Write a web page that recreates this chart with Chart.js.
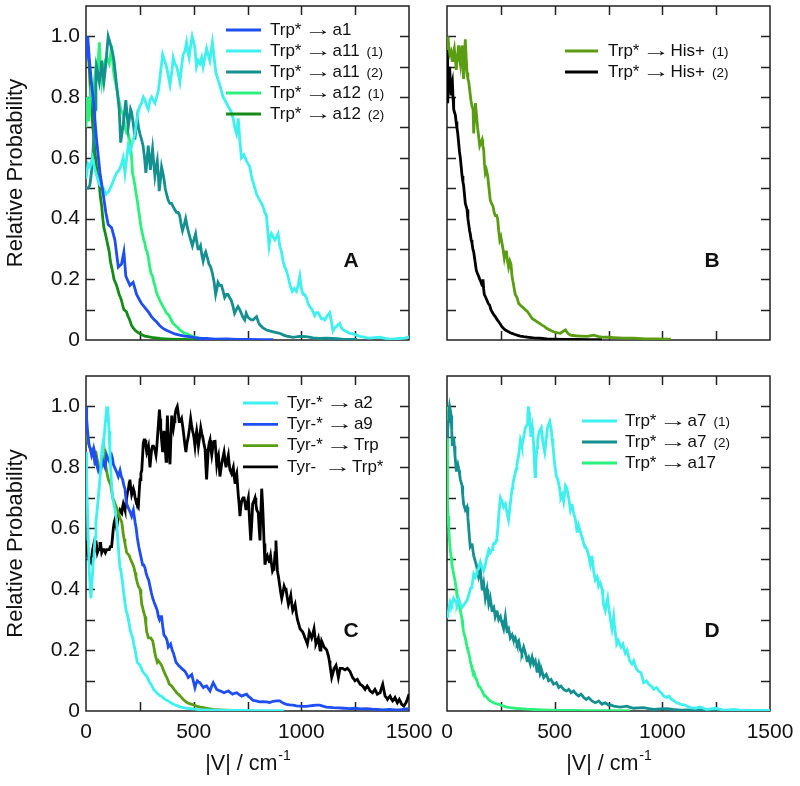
<!DOCTYPE html>
<html>
<head>
<meta charset="utf-8">
<script src="https://cdn.jsdelivr.net/npm/chart.js@4.4.1/dist/chart.umd.min.js"></script>
<style>
  body { margin: 0; background: #fff; }
  #wrap { position: relative; width: 800px; height: 786px; }
  #wrap canvas { position: absolute; left: 0; top: 0; }
</style>
</head>
<body>
<div id="wrap">
  <canvas id="panelA" width="800" height="786"></canvas>
  <canvas id="panelB" width="800" height="786"></canvas>
  <canvas id="panelC" width="800" height="786"></canvas>
  <canvas id="panelD" width="800" height="786"></canvas>
</div>
<script>
// tick labels
const xLabelValues = [0, 500, 1000, 1500];
const xLabelText = ['0', '500', '1000', '1500'];
const yLabelValues = [0, 0.2, 0.4, 0.6, 0.8, 1.0];
const yLabelText = ['0', '0.2', '0.4', '0.6', '0.8', '1.0'];

// series labels, per panel
const labelsA = ['Trp* → a1', 'Trp* → a11 (1)', 'Trp* → a11 (2)', 'Trp* → a12 (1)', 'Trp* → a12 (2)'];
const labelsB = ['Trp* → His+ (1)', 'Trp* → His+ (2)'];
const labelsC = ['Tyr-* → a2', 'Tyr-* → a9', 'Tyr-* → Trp', 'Tyr-  → Trp*'];
const labelsD = ['Trp* → a7 (1)', 'Trp* → a7 (2)', 'Trp* → a17'];

// Panel A  ([|V| in cm-1, relative probability])
const a1 = [[0,0.92],[8,1.0],[15,0.93],[25,0.85],[34,0.79],[49,0.66],[65,0.55],[80,0.48],[92,0.42],[103,0.38],[119,0.37],[134,0.33],[150,0.24],[165,0.25],[176,0.29],[185,0.21],[204,0.18],[219,0.19],[235,0.15],[250,0.13],[258,0.12],[270,0.11],[281,0.10],[292,0.09],[304,0.077],[315,0.068],[327,0.06],[342,0.048],[358,0.038],[373,0.032],[389,0.027],[412,0.02],[435,0.016],[458,0.013],[481,0.011],[505,0.008],[528,0.005],[560,0.005],[600,0.003],[650,0.004],[700,0.002],[760,0.002],[820,0.001],[870,0.001]];
const a11_1 = [[0,0.53],[10,0.58],[19,0.57],[30,0.6],[42,0.56],[54,0.53],[65,0.51],[80,0.5],[93,0.48],[106,0.49],[119,0.51],[130,0.53],[142,0.55],[154,0.56],[165,0.58],[173,0.6],[181,0.55],[189,0.6],[196,0.64],[204,0.62],[212,0.64],[220,0.66],[227,0.68],[235,0.72],[243,0.75],[250,0.77],[258,0.78],[266,0.8],[274,0.79],[282,0.77],[289,0.76],[297,0.79],[305,0.8],[312,0.79],[320,0.78],[328,0.8],[336,0.82],[346,0.88],[356,0.94],[365,0.92],[374,0.9],[382,0.87],[390,0.84],[398,0.88],[405,0.93],[413,0.91],[421,0.9],[428,0.88],[436,0.85],[444,0.9],[451,0.94],[459,0.95],[467,0.98],[473,0.95],[479,0.93],[486,0.97],[493,1.0],[500,0.98],[506,0.96],[513,0.9],[521,0.92],[529,0.91],[537,0.93],[544,0.9],[552,0.93],[560,0.96],[567,0.94],[575,0.92],[581,0.95],[587,0.98],[595,0.93],[603,0.88],[612,0.86],[621,0.84],[629,0.82],[637,0.8],[645,0.79],[652,0.78],[660,0.77],[668,0.76],[675,0.75],[683,0.73],[691,0.7],[699,0.68],[707,0.73],[714,0.66],[722,0.6],[733,0.61],[745,0.59],[753,0.58],[761,0.57],[768,0.54],[776,0.52],[784,0.5],[792,0.48],[800,0.47],[807,0.46],[815,0.45],[822,0.44],[830,0.42],[838,0.41],[844,0.36],[850,0.31],[856,0.34],[861,0.35],[869,0.34],[877,0.33],[885,0.34],[892,0.35],[900,0.31],[908,0.29],[915,0.26],[923,0.24],[930,0.23],[938,0.21],[948,0.18],[958,0.16],[967,0.17],[977,0.16],[985,0.18],[993,0.21],[1000,0.17],[1008,0.15],[1015,0.15],[1023,0.14],[1031,0.12],[1039,0.11],[1050,0.1],[1062,0.08],[1070,0.09],[1078,0.09],[1086,0.08],[1093,0.07],[1101,0.07],[1109,0.066],[1120,0.08],[1132,0.09],[1140,0.06],[1147,0.03],[1155,0.04],[1163,0.044],[1170,0.05],[1178,0.055],[1186,0.04],[1194,0.033],[1210,0.028],[1225,0.022],[1240,0.02],[1256,0.016],[1270,0.012],[1286,0.01],[1300,0.008],[1317,0.006],[1340,0.008],[1364,0.009],[1390,0.005],[1410,0.003],[1435,0.004],[1456,0.005],[1480,0.006],[1500,0.01]];
const a11_2 = [[0,0.5],[10,0.5],[18,0.51],[25,0.55],[31,0.6],[37,0.68],[42,0.76],[46,0.84],[49,0.9],[55,0.88],[62,0.85],[68,0.88],[73,0.92],[78,0.88],[83,0.85],[88,0.88],[93,0.92],[98,0.96],[103,1.0],[111,0.98],[119,0.96],[125,0.94],[130,0.92],[136,0.88],[142,0.84],[148,0.8],[154,0.76],[158,0.7],[161,0.65],[167,0.68],[173,0.71],[179,0.75],[185,0.79],[191,0.74],[196,0.7],[202,0.73],[207,0.76],[212,0.75],[216,0.73],[222,0.7],[227,0.66],[233,0.7],[238,0.73],[244,0.7],[250,0.68],[258,0.66],[265,0.64],[272,0.6],[278,0.55],[284,0.6],[289,0.64],[294,0.6],[299,0.56],[304,0.6],[309,0.63],[315,0.58],[320,0.54],[326,0.57],[331,0.59],[336,0.54],[340,0.49],[346,0.53],[351,0.57],[357,0.55],[362,0.53],[368,0.5],[374,0.48],[382,0.46],[389,0.45],[397,0.45],[404,0.44],[412,0.43],[420,0.42],[428,0.42],[435,0.41],[442,0.38],[448,0.36],[456,0.38],[463,0.4],[471,0.37],[478,0.35],[486,0.33],[494,0.31],[501,0.33],[509,0.35],[515,0.32],[520,0.3],[526,0.3],[532,0.31],[538,0.28],[544,0.26],[550,0.28],[556,0.29],[564,0.27],[571,0.25],[579,0.24],[587,0.22],[595,0.19],[602,0.15],[608,0.17],[613,0.19],[621,0.18],[629,0.18],[637,0.16],[644,0.14],[652,0.15],[659,0.15],[667,0.14],[675,0.13],[683,0.11],[690,0.088],[698,0.1],[706,0.11],[714,0.1],[721,0.088],[729,0.075],[737,0.066],[744,0.088],[752,0.075],[760,0.07],[768,0.066],[776,0.066],[784,0.072],[792,0.077],[800,0.06],[807,0.05],[822,0.04],[838,0.033],[853,0.03],[869,0.027],[885,0.024],[900,0.022],[915,0.017],[931,0.013],[946,0.011],[962,0.009],[990,0.012],[1023,0.011],[1055,0.007],[1085,0.005],[1115,0.006],[1147,0.005],[1190,0.003],[1225,0.002],[1260,0.002]];
const a12_1 = [[0,0.7],[6,0.8],[12,0.72],[18,0.77],[24,0.84],[29,0.8],[34,0.79],[40,0.86],[46,0.9],[52,0.88],[57,0.92],[62,0.98],[67,0.9],[73,0.85],[78,0.88],[83,0.9],[89,0.92],[96,0.93],[102,0.92],[108,0.91],[114,0.94],[119,0.97],[123,0.93],[127,0.89],[133,0.86],[139,0.84],[145,0.82],[150,0.8],[156,0.78],[161,0.76],[167,0.75],[173,0.74],[179,0.71],[185,0.69],[190,0.68],[196,0.68],[202,0.66],[207,0.64],[212,0.6],[216,0.55],[222,0.53],[227,0.51],[233,0.48],[238,0.46],[244,0.43],[250,0.4],[256,0.37],[262,0.35],[268,0.33],[273,0.32],[278,0.3],[284,0.29],[290,0.27],[296,0.24],[302,0.22],[309,0.21],[315,0.19],[320,0.18],[326,0.16],[331,0.15],[337,0.14],[343,0.13],[350,0.12],[358,0.11],[366,0.1],[374,0.088],[381,0.085],[389,0.077],[396,0.065],[404,0.055],[412,0.05],[420,0.044],[428,0.04],[435,0.033],[446,0.028],[458,0.022],[470,0.02],[481,0.016],[496,0.012],[512,0.009],[525,0.007],[540,0.005]];
const a12_2 = [[0,1.0],[6,0.98],[11,0.94],[15,0.9],[20,0.83],[26,0.76],[31,0.71],[37,0.66],[43,0.61],[49,0.57],[55,0.54],[62,0.51],[67,0.47],[73,0.44],[78,0.4],[83,0.37],[90,0.35],[96,0.33],[102,0.31],[108,0.29],[113,0.26],[119,0.24],[125,0.22],[130,0.2],[136,0.19],[142,0.18],[148,0.165],[154,0.15],[160,0.14],[165,0.13],[170,0.115],[176,0.1],[182,0.097],[188,0.093],[194,0.08],[200,0.071],[206,0.06],[211,0.049],[219,0.04],[227,0.033],[237,0.027],[247,0.022],[260,0.017],[273,0.013],[288,0.011],[304,0.009],[323,0.007],[343,0.005],[366,0.004],[389,0.003],[420,0.002],[450,0.002],[500,0.001],[560,0.001]];

// Panel B
const his1 = [[0,0.96],[4,1.0],[8,0.97],[13,0.94],[19,0.95],[24,0.92],[28,0.92],[31,0.95],[34,0.96],[39,0.92],[43,0.89],[48,0.93],[54,0.97],[58,0.93],[62,0.91],[66,0.95],[70,0.97],[74,0.9],[77,0.86],[81,0.93],[85,0.99],[89,0.93],[93,0.88],[97,0.86],[101,0.85],[106,0.82],[111,0.79],[116,0.77],[121,0.76],[124,0.68],[128,0.74],[132,0.78],[137,0.74],[142,0.7],[147,0.67],[152,0.64],[157,0.65],[163,0.66],[166,0.64],[170,0.63],[174,0.58],[178,0.55],[183,0.56],[189,0.54],[195,0.5],[201,0.46],[207,0.45],[214,0.44],[219,0.42],[224,0.41],[230,0.41],[235,0.4],[240,0.36],[245,0.33],[250,0.34],[255,0.32],[260,0.3],[266,0.27],[271,0.29],[276,0.29],[281,0.26],[286,0.24],[292,0.26],[297,0.25],[302,0.21],[307,0.19],[312,0.17],[317,0.15],[325,0.14],[333,0.12],[340,0.115],[348,0.11],[356,0.105],[364,0.099],[372,0.095],[379,0.088],[387,0.08],[395,0.071],[406,0.066],[418,0.06],[430,0.055],[441,0.049],[452,0.045],[464,0.038],[480,0.032],[495,0.027],[510,0.024],[526,0.022],[538,0.028],[550,0.033],[561,0.022],[573,0.016],[596,0.014],[619,0.013],[650,0.012],[681,0.016],[705,0.011],[728,0.009],[751,0.009],[774,0.008],[820,0.006],[870,0.006],[920,0.004],[970,0.004],[1010,0.003],[1040,0.003]];
const his2 = [[0,1.0],[3,0.78],[6,0.83],[8,0.85],[10,0.88],[12,0.9],[15,0.86],[19,0.81],[22,0.84],[25,0.85],[28,0.8],[31,0.76],[35,0.75],[39,0.74],[42,0.72],[46,0.7],[50,0.68],[54,0.65],[58,0.62],[62,0.6],[66,0.57],[70,0.54],[74,0.52],[77,0.51],[81,0.48],[85,0.45],[89,0.44],[93,0.43],[97,0.4],[101,0.38],[105,0.36],[108,0.35],[112,0.33],[116,0.32],[120,0.3],[124,0.29],[130,0.26],[136,0.23],[141,0.22],[147,0.21],[152,0.2],[158,0.19],[163,0.18],[167,0.2],[170,0.17],[173,0.15],[180,0.14],[186,0.13],[192,0.12],[198,0.115],[204,0.1],[209,0.093],[216,0.085],[224,0.077],[232,0.068],[240,0.06],[248,0.052],[255,0.044],[263,0.038],[271,0.033],[279,0.03],[286,0.027],[294,0.024],[302,0.022],[313,0.019],[325,0.016],[340,0.013],[356,0.011],[380,0.009],[402,0.007],[430,0.006],[464,0.004],[500,0.003],[542,0.002],[600,0.002],[660,0.001],[720,0.001]];

// Panel C
const tyrA2 = [[0,0.85],[3,0.76],[6,0.68],[10,0.57],[15,0.46],[19,0.41],[23,0.37],[27,0.42],[31,0.46],[34,0.5],[37,0.51],[42,0.57],[46,0.62],[52,0.66],[57,0.7],[62,0.74],[68,0.79],[72,0.84],[77,0.87],[80,0.86],[84,0.9],[89,0.94],[93,0.97],[97,0.95],[101,1.0],[104,0.96],[107,0.92],[111,0.85],[115,0.79],[119,0.74],[124,0.7],[129,0.68],[135,0.66],[142,0.63],[146,0.58],[150,0.54],[154,0.5],[158,0.47],[162,0.46],[166,0.44],[170,0.42],[173,0.4],[180,0.36],[186,0.33],[191,0.32],[197,0.3],[202,0.28],[207,0.26],[212,0.25],[217,0.24],[222,0.22],[228,0.2],[233,0.18],[238,0.16],[245,0.155],[251,0.15],[257,0.14],[263,0.13],[268,0.125],[274,0.12],[280,0.115],[285,0.11],[291,0.1],[297,0.093],[304,0.085],[310,0.077],[315,0.07],[320,0.066],[328,0.06],[336,0.055],[344,0.05],[351,0.049],[359,0.043],[367,0.038],[375,0.035],[382,0.033],[394,0.027],[406,0.022],[418,0.019],[429,0.016],[440,0.013],[452,0.011],[468,0.009],[483,0.008],[505,0.006],[529,0.004],[560,0.004],[600,0.003],[650,0.002],[720,0.002],[800,0.001],[860,0.001],[920,0.001]];
const tyrA9 = [[0,1.0],[3,0.96],[6,0.93],[10,0.9],[15,0.87],[20,0.86],[26,0.84],[30,0.85],[34,0.86],[38,0.83],[42,0.81],[46,0.83],[49,0.82],[53,0.8],[57,0.79],[62,0.8],[68,0.8],[72,0.81],[77,0.82],[82,0.81],[88,0.8],[92,0.82],[96,0.84],[102,0.83],[108,0.82],[113,0.83],[119,0.84],[123,0.83],[127,0.81],[133,0.8],[139,0.79],[145,0.78],[150,0.77],[154,0.78],[158,0.79],[164,0.77],[170,0.76],[176,0.74],[181,0.73],[185,0.7],[189,0.68],[195,0.67],[201,0.66],[207,0.65],[212,0.64],[216,0.65],[220,0.66],[224,0.64],[228,0.62],[233,0.6],[238,0.57],[245,0.54],[251,0.52],[257,0.5],[263,0.48],[268,0.48],[274,0.47],[280,0.45],[285,0.44],[291,0.43],[297,0.41],[303,0.39],[310,0.37],[315,0.36],[320,0.35],[326,0.34],[331,0.33],[336,0.31],[341,0.3],[346,0.31],[351,0.31],[356,0.28],[362,0.25],[367,0.245],[372,0.24],[377,0.23],[382,0.21],[388,0.215],[393,0.22],[400,0.2],[406,0.19],[412,0.175],[418,0.16],[424,0.155],[429,0.15],[437,0.145],[444,0.14],[452,0.135],[460,0.13],[468,0.12],[475,0.11],[483,0.115],[491,0.12],[498,0.1],[506,0.077],[511,0.09],[517,0.099],[523,0.095],[529,0.093],[537,0.085],[545,0.077],[552,0.08],[560,0.082],[568,0.074],[576,0.066],[583,0.08],[591,0.093],[599,0.082],[607,0.071],[615,0.068],[622,0.066],[632,0.063],[641,0.06],[651,0.063],[661,0.066],[671,0.06],[681,0.055],[690,0.058],[700,0.06],[711,0.054],[723,0.049],[734,0.052],[746,0.055],[754,0.048],[762,0.044],[776,0.035],[790,0.033],[806,0.03],[822,0.031],[838,0.03],[853,0.028],[869,0.032],[885,0.033],[900,0.033],[915,0.026],[931,0.022],[946,0.02],[962,0.019],[977,0.017],[993,0.016],[1008,0.015],[1023,0.015],[1039,0.017],[1054,0.018],[1070,0.019],[1085,0.019],[1100,0.016],[1116,0.013],[1131,0.012],[1147,0.011],[1170,0.01],[1200,0.009],[1224,0.008],[1250,0.009],[1275,0.007],[1302,0.008],[1330,0.006],[1355,0.005],[1379,0.004],[1410,0.005],[1435,0.004],[1456,0.004],[1480,0.006],[1500,0.008]];
const tyrTrp = [[0,0.91],[5,0.9],[11,0.88],[16,0.87],[22,0.86],[28,0.85],[34,0.84],[40,0.85],[46,0.85],[51,0.83],[57,0.81],[62,0.8],[68,0.79],[72,0.8],[77,0.81],[80,0.84],[84,0.86],[88,0.83],[93,0.8],[98,0.78],[104,0.76],[110,0.75],[115,0.74],[120,0.72],[124,0.7],[130,0.69],[135,0.68],[141,0.67],[146,0.66],[151,0.65],[155,0.64],[160,0.63],[166,0.62],[170,0.6],[173,0.58],[177,0.565],[181,0.55],[185,0.535],[189,0.52],[195,0.515],[201,0.51],[206,0.5],[212,0.49],[218,0.48],[223,0.47],[228,0.455],[232,0.44],[237,0.425],[243,0.41],[247,0.405],[251,0.4],[255,0.38],[259,0.35],[263,0.34],[266,0.33],[270,0.32],[274,0.31],[278,0.285],[282,0.26],[286,0.25],[290,0.24],[295,0.24],[300,0.24],[305,0.235],[310,0.23],[315,0.21],[320,0.19],[325,0.175],[331,0.16],[336,0.165],[341,0.16],[346,0.155],[351,0.15],[356,0.14],[362,0.13],[368,0.12],[375,0.11],[381,0.1],[387,0.088],[393,0.085],[398,0.082],[404,0.076],[409,0.071],[415,0.066],[421,0.06],[429,0.055],[437,0.049],[444,0.044],[452,0.038],[461,0.032],[471,0.027],[481,0.024],[491,0.022],[503,0.019],[514,0.016],[530,0.013],[545,0.011],[568,0.008],[591,0.005],[620,0.004],[650,0.003],[680,0.002]];
const tyrTrpStar = [[0,0.56],[4,0.54],[8,0.51],[15,0.5],[22,0.49],[27,0.51],[31,0.53],[34,0.54],[37,0.52],[42,0.53],[46,0.56],[50,0.54],[53,0.52],[58,0.53],[62,0.53],[65,0.55],[68,0.55],[73,0.52],[79,0.53],[84,0.53],[90,0.52],[96,0.53],[102,0.53],[108,0.53],[113,0.54],[119,0.54],[123,0.57],[127,0.6],[131,0.62],[135,0.63],[139,0.61],[142,0.6],[146,0.62],[150,0.64],[154,0.65],[158,0.66],[162,0.66],[166,0.65],[170,0.67],[173,0.68],[177,0.67],[181,0.66],[185,0.68],[189,0.7],[193,0.72],[197,0.73],[201,0.75],[204,0.76],[208,0.73],[212,0.71],[216,0.72],[220,0.73],[224,0.72],[228,0.7],[232,0.69],[235,0.68],[239,0.675],[243,0.67],[247,0.72],[251,0.76],[255,0.78],[259,0.79],[263,0.84],[266,0.88],[270,0.89],[274,0.89],[278,0.87],[282,0.85],[286,0.86],[290,0.87],[294,0.83],[297,0.8],[301,0.83],[305,0.86],[309,0.87],[313,0.87],[319,0.86],[325,0.84],[328,0.86],[331,0.89],[336,0.94],[341,0.99],[344,0.96],[347,0.93],[351,0.89],[356,0.85],[359,0.88],[362,0.92],[367,0.87],[372,0.82],[375,0.9],[378,0.97],[382,0.9],[386,0.86],[390,0.81],[394,0.89],[398,0.97],[402,0.95],[406,0.93],[410,0.95],[413,0.97],[418,0.99],[424,1.0],[428,0.98],[433,0.95],[438,0.95],[444,0.96],[450,0.93],[455,0.9],[460,0.87],[464,0.85],[469,0.88],[475,0.9],[481,0.93],[486,0.96],[490,0.94],[495,0.92],[501,0.9],[506,0.87],[510,0.9],[514,0.92],[518,0.9],[522,0.87],[528,0.9],[533,0.93],[538,0.91],[542,0.9],[547,0.88],[553,0.86],[557,0.8],[560,0.76],[564,0.81],[568,0.86],[572,0.88],[576,0.89],[580,0.86],[584,0.84],[588,0.86],[591,0.88],[595,0.885],[599,0.89],[603,0.85],[607,0.81],[611,0.83],[615,0.84],[619,0.8],[622,0.77],[626,0.79],[630,0.81],[635,0.83],[641,0.85],[646,0.82],[650,0.8],[655,0.82],[661,0.84],[665,0.81],[669,0.79],[673,0.785],[676,0.78],[680,0.79],[684,0.8],[688,0.77],[692,0.75],[696,0.77],[700,0.78],[704,0.74],[707,0.71],[711,0.68],[715,0.64],[719,0.67],[723,0.69],[729,0.7],[734,0.7],[739,0.68],[743,0.66],[748,0.68],[754,0.7],[760,0.62],[765,0.56],[770,0.62],[774,0.68],[780,0.69],[785,0.7],[789,0.68],[793,0.66],[797,0.655],[800,0.65],[804,0.6],[808,0.56],[812,0.65],[816,0.73],[820,0.68],[823,0.63],[827,0.55],[831,0.48],[836,0.5],[842,0.51],[846,0.5],[851,0.49],[854,0.5],[857,0.51],[862,0.48],[866,0.46],[869,0.465],[873,0.47],[878,0.52],[882,0.56],[886,0.5],[889,0.46],[894,0.44],[898,0.42],[904,0.39],[909,0.37],[915,0.39],[920,0.41],[925,0.4],[929,0.4],[935,0.37],[940,0.35],[946,0.365],[951,0.38],[956,0.35],[960,0.33],[966,0.34],[971,0.35],[977,0.32],[982,0.3],[988,0.285],[994,0.27],[1000,0.265],[1006,0.26],[1012,0.25],[1017,0.24],[1023,0.23],[1028,0.22],[1033,0.24],[1037,0.26],[1043,0.25],[1048,0.24],[1054,0.255],[1059,0.27],[1064,0.24],[1068,0.22],[1074,0.23],[1079,0.24],[1083,0.22],[1087,0.2],[1091,0.215],[1094,0.23],[1100,0.22],[1105,0.21],[1112,0.205],[1118,0.2],[1122,0.19],[1126,0.18],[1130,0.165],[1133,0.15],[1137,0.13],[1141,0.11],[1147,0.125],[1152,0.14],[1157,0.145],[1161,0.15],[1167,0.13],[1172,0.11],[1176,0.125],[1180,0.14],[1186,0.14],[1192,0.14],[1198,0.137],[1203,0.135],[1209,0.138],[1214,0.14],[1220,0.135],[1226,0.13],[1232,0.12],[1238,0.11],[1244,0.105],[1249,0.099],[1255,0.102],[1260,0.104],[1267,0.095],[1273,0.088],[1279,0.085],[1285,0.082],[1291,0.076],[1296,0.071],[1301,0.077],[1306,0.082],[1313,0.074],[1319,0.066],[1325,0.063],[1331,0.06],[1337,0.066],[1342,0.071],[1348,0.063],[1353,0.055],[1360,0.058],[1366,0.06],[1372,0.075],[1378,0.088],[1383,0.07],[1389,0.049],[1395,0.044],[1400,0.038],[1406,0.044],[1412,0.049],[1418,0.04],[1424,0.033],[1430,0.038],[1435,0.044],[1441,0.035],[1446,0.027],[1451,0.033],[1455,0.038],[1461,0.03],[1466,0.022],[1471,0.019],[1476,0.016],[1481,0.022],[1486,0.027],[1492,0.038],[1497,0.049],[1500,0.055]];

// Panel D
const a7_1 = [[0,0.31],[4,0.32],[8,0.33],[12,0.35],[15,0.36],[19,0.355],[23,0.35],[27,0.36],[31,0.37],[35,0.365],[39,0.36],[43,0.355],[46,0.35],[50,0.36],[54,0.37],[58,0.36],[62,0.35],[66,0.345],[70,0.34],[75,0.345],[80,0.35],[85,0.355],[90,0.36],[96,0.37],[101,0.38],[105,0.39],[108,0.4],[112,0.405],[116,0.41],[120,0.43],[124,0.45],[128,0.445],[132,0.44],[136,0.45],[139,0.46],[143,0.465],[147,0.47],[151,0.48],[155,0.49],[159,0.48],[163,0.47],[167,0.465],[170,0.46],[174,0.47],[178,0.48],[182,0.495],[186,0.51],[190,0.52],[194,0.53],[198,0.525],[201,0.52],[205,0.525],[209,0.53],[213,0.54],[217,0.55],[221,0.55],[224,0.55],[228,0.56],[232,0.57],[236,0.6],[240,0.64],[244,0.67],[248,0.7],[251,0.695],[255,0.69],[259,0.68],[263,0.67],[267,0.675],[271,0.68],[275,0.665],[279,0.65],[282,0.64],[286,0.63],[290,0.655],[294,0.68],[298,0.705],[302,0.73],[306,0.745],[310,0.76],[313,0.77],[317,0.78],[321,0.795],[325,0.81],[329,0.825],[333,0.84],[337,0.865],[341,0.89],[345,0.88],[348,0.87],[352,0.885],[356,0.9],[360,0.915],[364,0.93],[368,0.935],[372,0.94],[375,0.97],[378,1.0],[381,0.98],[384,0.96],[387,0.93],[390,0.9],[393,0.915],[396,0.93],[399,0.905],[402,0.88],[405,0.83],[409,0.77],[412,0.8],[415,0.84],[418,0.865],[421,0.89],[425,0.905],[430,0.92],[434,0.925],[438,0.93],[442,0.905],[446,0.88],[450,0.865],[454,0.85],[458,0.875],[461,0.9],[464,0.915],[467,0.93],[472,0.94],[477,0.95],[481,0.935],[485,0.92],[488,0.895],[492,0.87],[496,0.84],[500,0.81],[504,0.79],[508,0.77],[512,0.765],[515,0.76],[519,0.745],[523,0.73],[526,0.715],[529,0.7],[532,0.705],[535,0.71],[538,0.7],[542,0.69],[546,0.715],[550,0.74],[554,0.735],[557,0.73],[561,0.715],[565,0.7],[569,0.68],[573,0.66],[577,0.67],[580,0.68],[584,0.665],[588,0.65],[592,0.64],[596,0.63],[600,0.61],[604,0.59],[608,0.6],[611,0.61],[615,0.6],[619,0.59],[623,0.58],[627,0.57],[631,0.56],[635,0.55],[639,0.545],[642,0.54],[646,0.535],[650,0.53],[654,0.52],[658,0.51],[662,0.495],[666,0.48],[670,0.495],[673,0.51],[677,0.485],[681,0.46],[685,0.445],[689,0.43],[693,0.435],[697,0.44],[701,0.425],[704,0.41],[708,0.415],[712,0.42],[716,0.41],[720,0.4],[724,0.375],[727,0.35],[731,0.34],[735,0.33],[740,0.35],[746,0.37],[750,0.345],[755,0.32],[760,0.295],[766,0.27],[770,0.29],[774,0.31],[777,0.285],[781,0.26],[785,0.24],[789,0.22],[793,0.225],[797,0.23],[802,0.22],[808,0.21],[812,0.215],[817,0.22],[822,0.205],[828,0.19],[832,0.195],[836,0.2],[842,0.183],[848,0.165],[853,0.16],[859,0.154],[863,0.16],[867,0.165],[873,0.152],[879,0.14],[884,0.135],[890,0.13],[895,0.128],[901,0.126],[907,0.11],[913,0.093],[920,0.096],[926,0.099],[931,0.094],[937,0.088],[942,0.085],[948,0.082],[954,0.077],[960,0.071],[966,0.074],[973,0.077],[979,0.072],[984,0.066],[990,0.063],[995,0.06],[1001,0.055],[1007,0.049],[1013,0.047],[1019,0.044],[1025,0.047],[1031,0.049],[1036,0.044],[1042,0.038],[1048,0.036],[1054,0.033],[1061,0.03],[1068,0.027],[1076,0.025],[1084,0.022],[1095,0.021],[1107,0.019],[1118,0.015],[1130,0.011],[1141,0.01],[1153,0.009],[1165,0.011],[1176,0.013],[1190,0.009],[1207,0.005],[1225,0.007],[1246,0.009],[1265,0.006],[1285,0.003],[1308,0.004],[1331,0.005],[1360,0.003],[1393,0.002],[1425,0.002],[1455,0.002],[1500,0.002]];
const a7_2 = [[0,0.9],[3,0.92],[6,0.95],[9,0.98],[12,1.0],[16,0.985],[19,0.97],[22,0.92],[25,0.87],[28,0.885],[31,0.9],[34,0.87],[37,0.84],[40,0.815],[43,0.79],[46,0.8],[50,0.81],[53,0.8],[56,0.79],[59,0.775],[62,0.76],[66,0.75],[70,0.74],[73,0.71],[77,0.68],[81,0.67],[85,0.66],[89,0.665],[93,0.67],[97,0.635],[101,0.6],[104,0.57],[108,0.54],[112,0.545],[116,0.55],[120,0.53],[124,0.51],[128,0.5],[132,0.49],[136,0.48],[139,0.47],[143,0.455],[147,0.44],[151,0.45],[155,0.46],[159,0.43],[163,0.4],[167,0.41],[170,0.42],[174,0.395],[178,0.37],[182,0.385],[186,0.4],[190,0.375],[194,0.35],[198,0.36],[201,0.37],[205,0.35],[209,0.33],[213,0.335],[217,0.34],[221,0.325],[224,0.31],[228,0.32],[232,0.33],[236,0.315],[240,0.3],[244,0.305],[248,0.31],[251,0.3],[255,0.29],[259,0.28],[263,0.27],[267,0.29],[271,0.31],[275,0.285],[279,0.26],[282,0.265],[286,0.27],[290,0.255],[294,0.24],[298,0.245],[302,0.25],[306,0.24],[310,0.23],[313,0.235],[317,0.24],[321,0.23],[325,0.22],[329,0.225],[333,0.23],[337,0.215],[341,0.2],[345,0.195],[348,0.19],[352,0.2],[356,0.21],[360,0.2],[364,0.19],[368,0.178],[372,0.165],[375,0.17],[379,0.176],[383,0.165],[387,0.154],[391,0.165],[395,0.176],[398,0.165],[402,0.154],[406,0.16],[410,0.165],[414,0.148],[418,0.13],[422,0.142],[426,0.154],[430,0.137],[433,0.12],[437,0.125],[441,0.13],[445,0.12],[449,0.11],[455,0.115],[461,0.12],[467,0.11],[472,0.099],[478,0.102],[483,0.104],[489,0.096],[495,0.088],[501,0.09],[508,0.093],[514,0.085],[519,0.077],[524,0.08],[529,0.082],[535,0.077],[542,0.071],[548,0.068],[554,0.066],[560,0.068],[565,0.071],[571,0.066],[576,0.06],[582,0.063],[588,0.066],[594,0.06],[601,0.055],[606,0.052],[611,0.049],[617,0.052],[622,0.055],[629,0.05],[635,0.044],[641,0.041],[647,0.038],[653,0.041],[658,0.044],[665,0.039],[673,0.033],[681,0.03],[689,0.027],[697,0.03],[704,0.033],[712,0.028],[720,0.022],[728,0.025],[735,0.027],[743,0.023],[751,0.019],[760,0.02],[774,0.016],[790,0.014],[805,0.013],[820,0.014],[836,0.016],[850,0.012],[867,0.009],[890,0.01],[913,0.011],[936,0.008],[960,0.005],[990,0.007],[1022,0.008],[1050,0.005],[1084,0.003],[1120,0.004],[1161,0.004],[1200,0.003],[1238,0.002],[1300,0.002],[1380,0.001],[1450,0.001],[1500,0.001]];
const a17 = [[0,1.0],[2,0.79],[3,0.68],[5,0.64],[8,0.6],[11,0.565],[15,0.53],[19,0.505],[23,0.48],[27,0.465],[31,0.45],[35,0.435],[39,0.42],[43,0.4],[46,0.38],[50,0.37],[54,0.36],[58,0.345],[62,0.33],[66,0.315],[70,0.3],[73,0.28],[77,0.26],[81,0.25],[85,0.24],[89,0.225],[93,0.21],[97,0.2],[101,0.19],[105,0.178],[108,0.165],[112,0.152],[116,0.14],[120,0.135],[124,0.13],[128,0.12],[132,0.11],[136,0.105],[139,0.099],[143,0.09],[147,0.082],[151,0.08],[155,0.077],[159,0.071],[163,0.066],[167,0.06],[170,0.055],[178,0.05],[186,0.044],[193,0.038],[201,0.033],[209,0.03],[217,0.027],[228,0.024],[240,0.022],[251,0.019],[263,0.016],[278,0.013],[294,0.011],[317,0.009],[341,0.008],[370,0.006],[402,0.005],[440,0.004],[480,0.003],[530,0.002],[588,0.002],[650,0.001],[720,0.001],[800,0.001],[850,0.001]];

const FONT = "Arial, 'Liberation Sans', sans-serif";
Chart.defaults.font.family = FONT;
Chart.defaults.color = '#111';

const blue = '#1f4ef2';
const cyan = '#3ef0ee';
const teal = '#149090';
const spring = '#2cf07c';
const dgreen = '#168c18';
const olive = '#5a9c12';
const black = '#000000';

// one legend row: "pre → post (n)" with a stretched arrow and a small suffix
function legendText(ctx, label, x, y) {
  const parts = label.split('→');
  const pre = parts[0].replace(/ $/, '');
  const m = parts[1].trim().match(/^(.*?)( \(\d\))?$/);
  ctx.font = '17px ' + FONT;
  ctx.fillText(pre, x, y);
  const ax = x + ctx.measureText(pre).width + 8;
  const am = ctx.measureText('→');
  const ink = am.actualBoundingBoxLeft + am.actualBoundingBoxRight;
  const sx = 18 / ink;
  ctx.save();
  ctx.translate(ax + am.actualBoundingBoxLeft * sx, y);
  ctx.scale(sx, 1);
  ctx.fillText('→', 0, 0);
  ctx.restore();
  const px = ax + 18 + 5;
  ctx.fillText(m[1], px, y);
  if (m[2]) {
    const w = ctx.measureText(m[1]).width;
    ctx.font = '13.5px ' + FONT;
    ctx.fillText(m[2].trim(), px + w + 7, y + 1);
  }
}

// frame, inward ticks, legend, panel letter, x title
const decor = {
  id: 'decor',
  beforeDatasetsDraw(chart) {
    const ctx = chart.ctx;
    const a = chart.chartArea;
    const xs = chart.scales.x, ys = chart.scales.y;
    const len = 9;
    ctx.save();
    ctx.strokeStyle = '#222';
    ctx.lineWidth = 1.5;
    ctx.strokeRect(a.left, a.top, a.right - a.left, a.bottom - a.top);
    ctx.beginPath();
    xs.ticks.forEach(t => {
      const px = Math.round(xs.getPixelForValue(t.value)) + 0.5;
      if (px <= a.left + 1 || px >= a.right - 1) return;
      ctx.moveTo(px, a.bottom); ctx.lineTo(px, a.bottom - len);
      ctx.moveTo(px, a.top); ctx.lineTo(px, a.top + len);
    });
    ys.ticks.forEach(t => {
      const py = Math.round(ys.getPixelForValue(t.value)) + 0.5;
      if (py <= a.top + 1 || py >= a.bottom - 1) return;
      ctx.moveTo(a.left, py); ctx.lineTo(a.left + len, py);
      ctx.moveTo(a.right, py); ctx.lineTo(a.right - len, py);
    });
    ctx.stroke();
    ctx.restore();
  },
  afterDatasetsDraw(chart, args, o) {
    const ctx = chart.ctx;
    const a = chart.chartArea;
    const lg = o.legend;
    ctx.save();
    ctx.textAlign = 'left';
    ctx.textBaseline = 'middle';
    chart.data.datasets.forEach((ds, i) => {
      const y = lg.y + i * lg.dy;
      ctx.strokeStyle = ds.borderColor;
      ctx.lineWidth = 2.8;
      ctx.beginPath();
      ctx.moveTo(lg.x1, y);
      ctx.lineTo(lg.x2, y);
      ctx.stroke();
      ctx.fillStyle = '#111';
      legendText(ctx, ds.label, lg.tx, y);
    });
    ctx.font = 'bold 21px ' + FONT;
    ctx.textAlign = 'center';
    ctx.fillText(o.letter, o.letterX, o.letterY);
    if (o.xTitle) {
      const cx = (a.left + a.right) / 2;
      const base = a.bottom + 59;
      ctx.textAlign = 'left';
      ctx.textBaseline = 'alphabetic';
      ctx.font = '21.5px ' + FONT;
      const w1 = ctx.measureText('|V| / cm').width;
      ctx.font = '14px ' + FONT;
      const w2 = ctx.measureText('-1').width;
      const x0 = cx - (w1 + w2) / 2;
      ctx.font = '21.5px ' + FONT;
      ctx.fillText('|V| / cm', x0, base);
      ctx.font = '14px ' + FONT;
      ctx.fillText('-1', x0 + w1 + 1, base - 10);
    }
    ctx.restore();
  }
};

function makePanel(id, box, labels, series, colors, opt) {
  const yW = opt.yLabels ? box.left : 10;
  const xH = opt.xLabels ? 786 - box.bottom : 10;
  new Chart(document.getElementById(id), {
    type: 'line',
    data: {
      datasets: series.map((s, i) => ({
        label: labels[i],
        data: s.map(p => ({ x: p[0], y: p[1] })),
        borderColor: colors[i],
        borderWidth: 2.8,
        pointRadius: 0,
        fill: false,
        tension: 0
      }))
    },
    options: {
      responsive: false,
      animation: false,
      events: [],
      layout: {
        padding: { left: box.left - yW, top: box.top, right: 800 - box.right, bottom: 786 - box.bottom - xH }
      },
      scales: {
        x: {
          type: 'linear', min: 0, max: 1500,
          afterFit: s => { s.height = xH; s.paddingLeft = 0; s.paddingRight = 0; },
          grid: { display: false, drawTicks: false },
          border: { display: false },
          ticks: {
            display: opt.xLabels, stepSize: 250, autoSkip: false, maxRotation: 0, padding: 9,
            font: { size: 21 },
            callback: v => { const i = xLabelValues.indexOf(v); return i >= 0 ? xLabelText[i] : ''; }
          }
        },
        y: {
          type: 'linear', min: 0, max: 1.1,
          afterFit: s => { s.width = yW; s.paddingTop = 0; s.paddingBottom = 0; },
          grid: { display: false, drawTicks: false },
          border: { display: false },
          title: { display: opt.yLabels, text: 'Relative Probability', font: { size: 22 }, padding: { top: 3, bottom: 0 } },
          ticks: {
            display: opt.yLabels, stepSize: 0.1, autoSkip: false, padding: 6,
            font: { size: 21 },
            callback: v => { const i = yLabelValues.findIndex(t => Math.abs(t - v) < 1e-6); return i >= 0 ? yLabelText[i] : ''; }
          }
        }
      },
      plugins: {
        legend: { display: false },
        tooltip: { enabled: false },
        decor: opt.decor
      }
    },
    plugins: [decor]
  });
}

makePanel('panelA', { left: 86, right: 409, top: 6, bottom: 340 }, labelsA,
  [a1, a11_1, a11_2, a12_1, a12_2], [blue, cyan, teal, spring, dgreen],
  { yLabels: true, xLabels: false,
    decor: { legend: { x1: 226, x2: 261, tx: 270, y: 30, dy: 21 }, letter: 'A', letterX: 351, letterY: 261, xTitle: false } });

makePanel('panelB', { left: 447, right: 770, top: 6, bottom: 340 }, labelsB,
  [his1, his2], [olive, black],
  { yLabels: false, xLabels: false,
    decor: { legend: { x1: 565, x2: 598, tx: 608, y: 51, dy: 21 }, letter: 'B', letterX: 712, letterY: 261, xTitle: false } });

makePanel('panelC', { left: 86, right: 409, top: 376, bottom: 711 }, labelsC,
  [tyrA2, tyrA9, tyrTrp, tyrTrpStar], [cyan, blue, olive, black],
  { yLabels: true, xLabels: true,
    decor: { legend: { x1: 243, x2: 278, tx: 287, y: 403, dy: 21.3 }, letter: 'C', letterX: 351, letterY: 631, xTitle: true } });

makePanel('panelD', { left: 447, right: 770, top: 376, bottom: 711 }, labelsD,
  [a7_1, a7_2, a17], [cyan, teal, spring],
  { yLabels: false, xLabels: true,
    decor: { legend: { x1: 582, x2: 617, tx: 625, y: 421, dy: 21 }, letter: 'D', letterX: 712, letterY: 631, xTitle: true } });
</script>
</body>
</html>
